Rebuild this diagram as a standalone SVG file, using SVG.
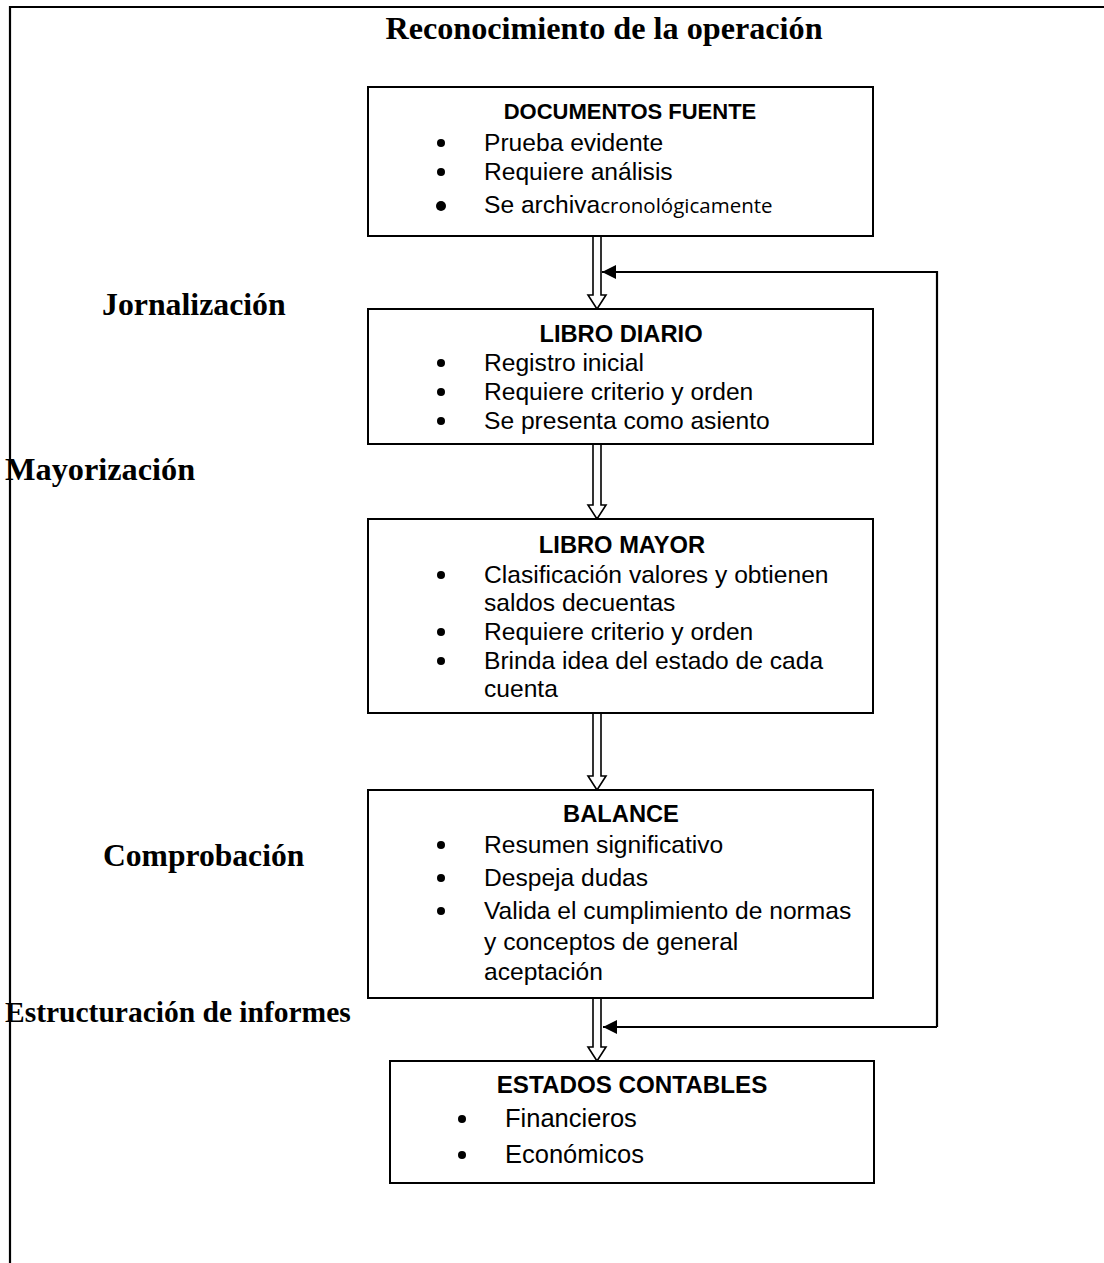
<svg xmlns="http://www.w3.org/2000/svg" width="1104" height="1263" viewBox="0 0 1104 1263">
<defs>
<style>
.frame{fill:none;stroke:#000;stroke-width:2.2}
.box{fill:#fff;stroke:#000;stroke-width:2}
.hd{font-family:"Liberation Sans",Arial,sans-serif;font-weight:bold;font-size:23.7px;fill:#000;text-anchor:middle}
.it{font-family:"Liberation Sans",Arial,sans-serif;font-size:24.6px;fill:#000}
.lbl{font-family:"Liberation Serif","Times New Roman",serif;font-weight:bold;font-size:31.8px;fill:#000}
.dot{fill:#000}
.dbl{fill:#fff;stroke:#000;stroke-width:1.6;stroke-linejoin:miter}
.fb{fill:none;stroke:#000;stroke-width:2.2}
</style>
<marker id="ah" viewBox="0 0 14 14" refX="14" refY="7" markerWidth="14" markerHeight="14" markerUnits="userSpaceOnUse" orient="auto">
<path d="M0,0 L14,7 L0,14 z" fill="#000"/>
</marker>
</defs>
<rect width="1104" height="1263" fill="#fff"/>
<path class="frame" d="M10,1263 V7 H1104"/>
<text class="lbl" x="604" y="39" text-anchor="middle" style="font-size:32.2px">Reconocimiento de la operación</text>
<text class="lbl" x="102" y="315">Jornalización</text>
<text class="lbl" x="5" y="480" style="font-size:32.3px">Mayorización</text>
<text class="lbl" x="103" y="866" style="font-size:31.6px">Comprobación</text>
<text class="lbl" x="5" y="1022" style="font-size:29.5px">Estructuración de informes</text>

<g id="connectors">
<path class="dbl" d="M593,236 H601 V295 H606 L597,309 L588,295 H593 Z"/>
<path class="dbl" d="M593,444 H601 V505 H606 L597,519 L588,505 H593 Z"/>
<path class="dbl" d="M593,713 H601 V776 H606 L597,790 L588,776 H593 Z"/>
<path class="dbl" d="M593,998 H601 V1047 H606 L597,1061 L588,1047 H593 Z"/>
<path class="fb" d="M937,1027 V272 H602" marker-end="url(#ah)"/>
<path class="fb" d="M937,1027 H603" marker-end="url(#ah)"/>
</g>

<g id="documentos-fuente">
<rect class="box" x="368" y="87" width="505" height="149"/>
<text class="hd" x="630" y="119" style="font-size:22px">DOCUMENTOS FUENTE</text>
<circle class="dot" cx="441" cy="143" r="4"/>
<text class="it" x="484" y="151">Prueba evidente</text>
<circle class="dot" cx="441" cy="172" r="4"/>
<text class="it" x="484" y="180">Requiere análisis</text>
<circle class="dot" cx="441" cy="206" r="5"/>
<text class="it" x="484" y="213">Se archiva<tspan style="font-family:'Open Sans','Liberation Sans',sans-serif;font-size:20.5px">cronológicamente</tspan></text>
</g>

<g id="libro-diario">
<rect class="box" x="368" y="309" width="505" height="135"/>
<text class="hd" x="621" y="342">LIBRO DIARIO</text>
<circle class="dot" cx="441" cy="363" r="4"/>
<text class="it" x="484" y="371">Registro inicial</text>
<circle class="dot" cx="441" cy="392" r="4"/>
<text class="it" x="484" y="400">Requiere criterio y orden</text>
<circle class="dot" cx="441" cy="421" r="4"/>
<text class="it" x="484" y="429">Se presenta como asiento</text>
</g>

<g id="libro-mayor">
<rect class="box" x="368" y="519" width="505" height="194"/>
<text class="hd" x="622" y="553">LIBRO MAYOR</text>
<circle class="dot" cx="441" cy="575" r="4"/>
<text class="it" x="484" y="583">Clasificación valores y obtienen</text>
<text class="it" x="484" y="611">saldos decuentas</text>
<circle class="dot" cx="441" cy="632" r="4"/>
<text class="it" x="484" y="640">Requiere criterio y orden</text>
<circle class="dot" cx="441" cy="661" r="4"/>
<text class="it" x="484" y="669">Brinda idea del estado de cada</text>
<text class="it" x="484" y="697">cuenta</text>
</g>

<g id="balance">
<rect class="box" x="368" y="790" width="505" height="208"/>
<text class="hd" x="621" y="822">BALANCE</text>
<circle class="dot" cx="441" cy="845" r="4"/>
<text class="it" x="484" y="853">Resumen significativo</text>
<circle class="dot" cx="441" cy="878" r="4"/>
<text class="it" x="484" y="886">Despeja dudas</text>
<circle class="dot" cx="441" cy="911" r="4"/>
<text class="it" x="484" y="919">Valida el cumplimiento de normas</text>
<text class="it" x="484" y="950">y conceptos de general</text>
<text class="it" x="484" y="980">aceptación</text>
</g>

<g id="estados-contables">
<rect class="box" x="390" y="1061" width="484" height="122"/>
<text class="hd" x="632" y="1093" style="font-size:24.2px">ESTADOS CONTABLES</text>
<circle class="dot" cx="462" cy="1119" r="4"/>
<text class="it" x="505" y="1127" style="font-size:25.5px">Financieros</text>
<circle class="dot" cx="462" cy="1155" r="4"/>
<text class="it" x="505" y="1163" style="font-size:25.5px">Económicos</text>
</g>
</svg>
